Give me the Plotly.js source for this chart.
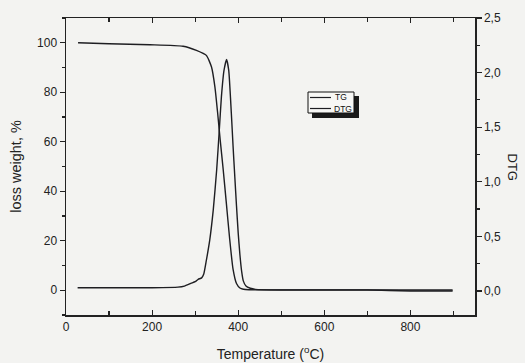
<!DOCTYPE html>
<html>
<head>
<meta charset="utf-8">
<script src="https://cdn.plot.ly/plotly-3.0.1.min.js"></script>
<style>html,body{margin:0;padding:0;background:#f3f3f1;}</style>
</head>
<body>
<div id="chart" style="width:525px;height:363px;"></div>
<script>
// TG curve (loss weight, %)
var tgTemp = [28, 100, 195, 272, 303, 326, 338, 346, 352, 358, 365, 372, 380, 388, 396, 404, 412, 425, 500, 600, 700, 800, 898];
var tgValue = [100, 99.6, 99.2, 98.6, 96.9, 94.9, 90.2, 82, 72, 61, 49, 36, 21, 8.5, 2.7, 0.9, 0.4, 0.2, 0.1, 0.1, 0.1, 0.1, 0.1];
// DTG curve
var dtgTemp = [27, 100, 200, 260, 275, 290, 300, 307, 315, 320, 326, 334, 342, 350, 356, 361, 367, 373, 378, 384, 388, 392, 396, 400, 404, 408, 412, 418, 428, 440, 500, 600, 700, 800, 898];
var dtgValue = [0.03, 0.03, 0.03, 0.035, 0.045, 0.07, 0.085, 0.107, 0.12, 0.155, 0.28, 0.47, 0.74, 1.11, 1.47, 1.78, 2.02, 2.12, 2.02, 1.63, 1.33, 1.05, 0.78, 0.53, 0.33, 0.18, 0.09, 0.045, 0.025, 0.015, 0.01, 0.01, 0.01, 0.0, 0.0];
var seriesNames = ['TG', 'DTG'];
var xTicks = [0, 200, 400, 600, 800];
var yTicks = [0, 20, 40, 60, 80, 100];
var y2Ticks = [0, 0.5, 1.0, 1.5, 2.0, 2.5];

var ink = '#1e1e22';
var traces = [
  {x: tgTemp, y: tgValue, name: seriesNames[0], type: 'scatter', mode: 'lines', showlegend: false,
   line: {color: ink, width: 1.4, shape: 'spline', smoothing: 0.5}},
  {x: dtgTemp, y: dtgValue, name: seriesNames[1], type: 'scatter', mode: 'lines', yaxis: 'y2', showlegend: false,
   line: {color: ink, width: 1.4, shape: 'spline', smoothing: 0.5}}
];

// legend box geometry (pixel positions converted to paper fractions)
var M = {l: 66, r: 50, t: 18, b: 48}, W = 525, H = 363;
var pw = W - M.l - M.r, ph = H - M.t - M.b;
function px(x) { return (x - M.l) / pw; }
function py(y) { return (H - M.b - y) / ph; }

var shapes = [
  {type: 'rect', xref: 'paper', yref: 'paper', x0: px(312), x1: px(359), y0: py(118), y1: py(96),
   fillcolor: '#1a1a1a', line: {width: 0}, layer: 'above'},
  {type: 'rect', xref: 'paper', yref: 'paper', x0: px(308), x1: px(354), y0: py(113), y1: py(92),
   fillcolor: '#f7f7f5', line: {color: '#111', width: 1}, layer: 'above'},
  {type: 'line', xref: 'paper', yref: 'paper', x0: px(310), x1: px(331), y0: py(97.5), y1: py(97.5),
   line: {color: ink, width: 1.2}, layer: 'above'},
  {type: 'line', xref: 'paper', yref: 'paper', x0: px(310), x1: px(331), y0: py(108.5), y1: py(108.5),
   line: {color: ink, width: 1.2}, layer: 'above'}
];

var fnt = {family: 'Liberation Sans, Arial, sans-serif', size: 12, color: '#222'};
var layout = {
  width: W, height: H,
  margin: M,
  paper_bgcolor: '#f3f3f1', plot_bgcolor: '#f3f3f1',
  separators: ', ',
  font: fnt,
  showlegend: false,
  xaxis: {range: [0, 950], tickvals: xTicks, ticks: 'inside', ticklen: 5, tickwidth: 1.2,
    tickcolor: '#222', showline: true, linecolor: '#222', linewidth: 1.5, mirror: 'ticks',
    showgrid: false, zeroline: false,
    minor: {dtick: 100, ticks: 'inside', ticklen: 4, tickcolor: '#222', showgrid: false},
    title: {text: 'Temperature (<sup>o</sup>C)', font: {size: 14}, standoff: 16}},
  yaxis: {range: [-10, 110], tickvals: yTicks, ticks: 'outside', ticklen: 5, tickwidth: 1.2,
    tickcolor: '#222', showline: true, linecolor: '#222', linewidth: 1.5,
    showgrid: false, zeroline: false,
    minor: {dtick: 10, ticks: 'outside', ticklen: 3, tickcolor: '#222', showgrid: false},
    title: {text: 'loss weight, %', font: {size: 14.5}, standoff: 12}},
  yaxis2: {range: [-0.22, 2.5], overlaying: 'y', side: 'right', tickvals: y2Ticks,
    tickformat: '.1f', ticks: 'outside', ticklen: 5, tickwidth: 1.2, tickcolor: '#222',
    showline: true, linecolor: '#222', linewidth: 1.5, showgrid: false, zeroline: false,
    minor: {dtick: 0.25, ticks: 'outside', ticklen: 3, tickcolor: '#222', showgrid: false}},
  shapes: shapes,
  annotations: [
    {text: 'DTG', xref: 'paper', yref: 'paper', x: 1, xanchor: 'center', yanchor: 'middle',
     xshift: 37, y: 0.5, textangle: 90, showarrow: false, font: {size: 13, color: '#222'}},
    {text: seriesNames[0], xref: 'paper', yref: 'paper', x: px(333), y: py(97.5), xanchor: 'left',
     yanchor: 'middle', showarrow: false, font: {size: 8.5, color: '#111'}},
    {text: seriesNames[1], xref: 'paper', yref: 'paper', x: px(332), y: py(108.5), xanchor: 'left',
     yanchor: 'middle', showarrow: false, font: {size: 8.5, color: '#111'}}
  ]
};
Plotly.newPlot('chart', traces, layout, {displayModeBar: false, staticPlot: true});
</script>
</body>
</html>
